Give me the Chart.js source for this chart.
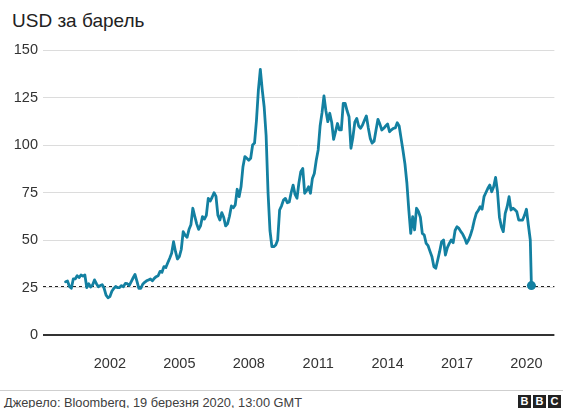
<!DOCTYPE html>
<html>
<head>
<meta charset="utf-8">
<script src="https://cdn.jsdelivr.net/npm/chart.js@4/dist/chart.umd.min.js"></script>
<style>
    body { margin: 0; background: #fff; }
    #wrap { position: relative; width: 563px; height: 408px; font-family: 'Liberation Sans', Arial, sans-serif; overflow: hidden; }
    #title { position: absolute; left: 12px; top: 10px; font-size: 19px; color: #222; }
    #chart-box { position: absolute; left: 0; top: 0; }
    #rule { position: absolute; left: 0; top: 390px; width: 563px; height: 1px; background: #cfcfcf; }
    #source { position: absolute; left: 4px; top: 395px; font-size: 12.8px; color: #404040; white-space: nowrap; }
    #bbc { position: absolute; left: 518px; top: 395px; display: flex; gap: 2px; }
    #bbc span { display: block; width: 13px; height: 13px; background: #222; color: #fff; font-size: 11px; font-weight: bold; line-height: 13px; text-align: center; }
</style>
</head>
<body>
<div id="wrap">
    <div id="title">USD за барель</div>
    <div id="chart-box"><canvas id="oilChart" width="563" height="385"></canvas></div>
    <div id="rule"></div>
    <div id="source">Джерело: Bloomberg, 19 березня 2020, 13:00 GMT</div>
    <div id="bbc"><span>B</span><span>B</span><span>C</span></div>
</div>
<script>
/* Brent, USD per barrel, monthly values */
const prices2000 = [28, 28.4, 25.5, 24.6, 29.5, 29.5, 31.2, 30.2, 31.6, 31, 31.6]; // from Feb
const prices2001 = [25, 27, 25.3, 26.3, 29, 27, 25.4, 26, 26.5, 24.6, 21, 19.6];
const prices2002 = [20.2, 23, 24.5, 25.5, 24.9, 25, 26, 25.4, 27.2, 27, 26, 28];
const prices2003 = [30, 31.9, 28.4, 24.5, 24.5, 26.7, 27.7, 28.5, 29, 29.5, 28.5, 29.8];
const prices2004 = [30.7, 31.2, 33.5, 33, 36, 35.5, 38, 40.4, 43, 49.1, 44, 40];
const prices2005 = [41.2, 45, 54.4, 52.5, 51.4, 55.5, 58, 66.7, 62.5, 58.5, 55.6, 57.5];
const prices2006 = [62.3, 61, 63, 71.9, 70.5, 72.5, 74.9, 73, 63, 60.5, 64.4, 62];
const prices2007 = [57.4, 58.5, 62.5, 67.9, 67, 68.5, 76.7, 72.8, 78, 88.6, 93.9, 93];
const prices2008 = [92, 93, 100, 101, 113, 129, 139.8, 129, 120, 105, 75, 55];
const prices2009 = [46.5, 46.5, 47.4, 50, 65.8, 68, 71, 71.9, 69.6, 70, 75, 78.9];
const prices2010 = [74, 72, 80, 86, 87.7, 74.6, 76, 78, 74.6, 82.4, 85, 92];
const prices2011 = [97.4, 110, 117, 125.8, 118, 112.3, 116.7, 112, 103, 107, 111.3, 108];
const prices2012 = [108, 121.9, 121.9, 118, 114.9, 98.3, 104, 112, 114, 110, 108.8, 110.5];
const prices2013 = [113, 115.3, 109, 103.5, 101, 102, 107.9, 113.5, 111, 107.9, 108.8, 110];
const prices2014 = [111, 107, 108, 108.8, 109, 111.7, 110, 103.5, 97, 90, 80, 65.8];
const prices2015 = [53.5, 62.3, 55.3, 66.7, 65, 62, 53.5, 52.6, 48.2, 47, 44, 41.2];
const prices2016 = [36, 35.1, 39.5, 44, 49.1, 50, 42.1, 46, 48.2, 50, 48.6, 55];
const prices2017 = [57, 56.1, 54.4, 53, 50.9, 48.2, 50, 52.6, 56, 60.5, 64, 65.5];
const prices2018 = [67.5, 66.2, 72.8, 75, 77.2, 78.9, 75.4, 78, 82.9, 75.4, 62, 57];
const prices2019 = [54.4, 64, 67.5, 72.8, 65.8, 66.7, 66, 64.9, 60.5, 60.5, 60.5, 63];
const prices2020 = [66.2, 57.9]; // Jan, Feb
const march2020Days = [1, 19];
const march2020Prices = [50, 26];

const yearTicks = [2002, 2005, 2008, 2011, 2014, 2017, 2020];
const priceTicks = [0, 25, 50, 75, 100, 125, 150];

const lineColor = '#1380a1';

// build {x: decimal year, y: price}
let points = [];
function addYear(year, firstMonth, values) {
    values.forEach((v, i) => {
        points.push({ x: year + (firstMonth + i) / 12, y: v });
    });
}
addYear(2000, 1, prices2000);
addYear(2001, 0, prices2001);
addYear(2002, 0, prices2002);
addYear(2003, 0, prices2003);
addYear(2004, 0, prices2004);
addYear(2005, 0, prices2005);
addYear(2006, 0, prices2006);
addYear(2007, 0, prices2007);
addYear(2008, 0, prices2008);
addYear(2009, 0, prices2009);
addYear(2010, 0, prices2010);
addYear(2011, 0, prices2011);
addYear(2012, 0, prices2012);
addYear(2013, 0, prices2013);
addYear(2014, 0, prices2014);
addYear(2015, 0, prices2015);
addYear(2016, 0, prices2016);
addYear(2017, 0, prices2017);
addYear(2018, 0, prices2018);
addYear(2019, 0, prices2019);
addYear(2020, 0, prices2020);
march2020Days.forEach((d, i) => {
    points.push({ x: 2020 + (2 + (d - 1) / 31) / 12, y: march2020Prices[i] });
});

const lastPrice = points[points.length - 1].y;
const pointSizes = points.map((p, i) => i === points.length - 1 ? 4.5 : 0);

// dashed line at the latest price
const latestLine = {
    id: 'latestLine',
    beforeDatasetsDraw(chart) {
        const { ctx, chartArea, scales } = chart;
        const y = Math.round(scales.y.getPixelForValue(lastPrice)) + 0.5;
        ctx.save();
        ctx.strokeStyle = '#222';
        ctx.lineWidth = 1;
        ctx.setLineDash([3, 3]);
        ctx.beginPath();
        ctx.moveTo(chartArea.left, y);
        ctx.lineTo(chartArea.right, y);
        ctx.stroke();
        ctx.restore();
    }
};

Chart.defaults.font.family = "'Liberation Sans', Arial, sans-serif";

new Chart(document.getElementById('oilChart'), {
    type: 'line',
    data: {
        datasets: [{
            data: points,
            borderColor: lineColor,
            backgroundColor: lineColor,
            borderWidth: 2.8,
            borderJoinStyle: 'round',
            borderCapStyle: 'round',
            tension: 0,
            pointRadius: pointSizes,
            pointBorderWidth: 0,
            pointHoverRadius: 0
        }]
    },
    options: {
        responsive: false,
        animation: false,
        layout: { padding: { top: 50, right: 8, left: 0, bottom: 0 } },
        plugins: {
            legend: { display: false },
            tooltip: { enabled: false }
        },
        scales: {
            x: {
                type: 'linear',
                min: 1999.108,
                max: 2021.208,
                afterBuildTicks: scale => {
                    scale.ticks = yearTicks.map(v => ({ value: v }));
                },
                afterFit: scale => { scale.height = 50; },
                grid: { display: false, drawTicks: false },
                border: { display: false },
                ticks: {
                    autoSkip: false,
                    maxRotation: 0,
                    padding: 20,
                    color: '#333',
                    font: { size: 14.5 },
                    callback: v => String(v)
                }
            },
            y: {
                min: 0,
                max: 150,
                afterBuildTicks: scale => {
                    scale.ticks = priceTicks.map(v => ({ value: v }));
                },
                afterFit: scale => { scale.width = 43; },
                grid: {
                    drawTicks: false,
                    color: c => c.tick.value === 0 ? '#333' : '#dcdcdc',
                    lineWidth: c => c.tick.value === 0 ? 2 : 1
                },
                border: { display: false },
                ticks: {
                    padding: 5,
                    color: '#333',
                    font: { size: 14.5 }
                }
            }
        }
    },
    plugins: [latestLine]
});
</script>
</body>
</html>
